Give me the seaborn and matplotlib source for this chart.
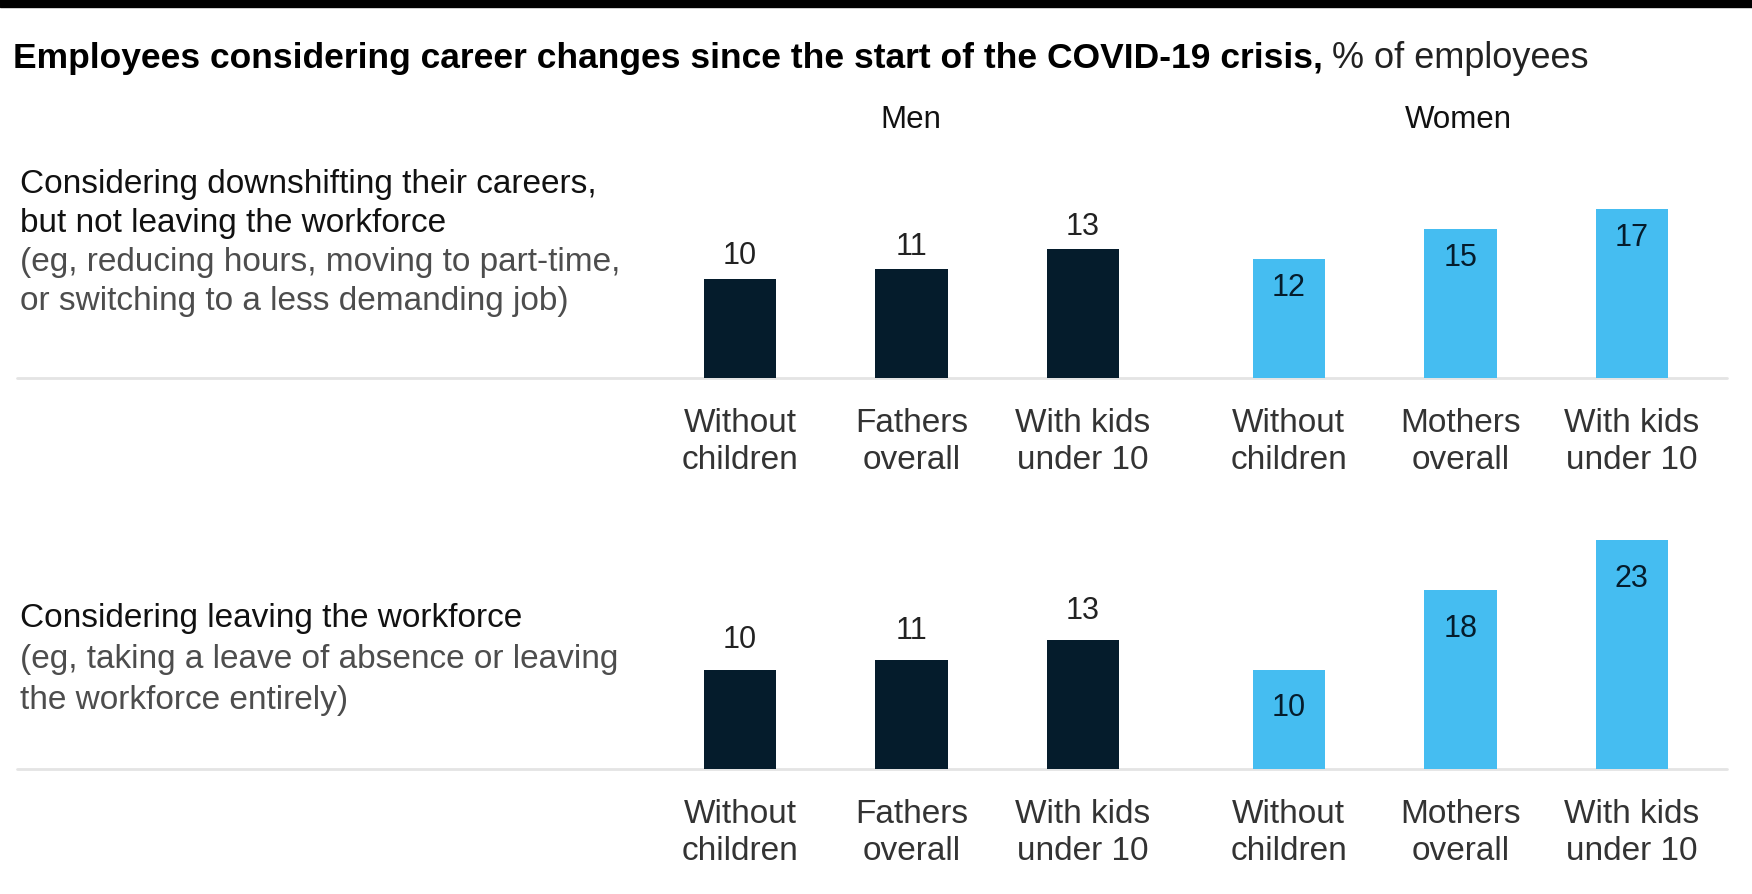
import numpy as np
import pandas as pd
import seaborn as sns
import matplotlib.pyplot as plt
from matplotlib.patches import Rectangle

# --- data ---
groups = ["Men", "Men", "Men", "Women", "Women", "Women"]
categories = ["Without\nchildren", "Fathers\noverall", "With kids\nunder 10",
              "Without\nchildren", "Mothers\noverall", "With kids\nunder 10"]
downshifting = [10, 11, 13, 12, 15, 17]
leaving = [10, 11, 13, 10, 18, 23]

row_labels = [
    (["Considering downshifting their careers,", "but not leaving the workforce"],
     ["(eg, reducing hours, moving to part-time,", "or switching to a less demanding job)"]),
    (["Considering leaving the workforce"],
     ["(eg, taking a leave of absence or leaving", "the workforce entirely)"]),
]
title_bold = "Employees considering career changes since the start of the COVID-19 crisis,"
title_rest = "% of employees"

DARK = "#051c2c"
LIGHT = "#45bdf1"
W, H = 1752, 895

sns.set_theme(style="white")
plt.rcParams["font.family"] = ["Liberation Sans", "DejaVu Sans"]

# x positions: small gap between men and women groups
pos = np.array([0, 1, 2, 3.2, 4.2, 5.2])
df = pd.DataFrame({"group": groups, "cat": categories, "pos": pos,
                   "down": downshifting, "leave": leaving})

fig = plt.figure(figsize=(W / 100, H / 100), dpi=100)
fig.patches.append(Rectangle((0, 1 - 8 / H), 1, 8 / H, transform=fig.transFigure,
                             color="black", zorder=10))

PX_UNIT = 9.95
X0, STEP = 740, 171.5
x_left, x_right = 17, 1727
xlim = ((x_left - X0) / STEP, (x_right - X0) / STEP)


def make_panel(col, base_px, ymax, above_px, inside_px):
    top_px = base_px - ymax * PX_UNIT
    ax = fig.add_axes([x_left / W, 1 - base_px / H, (x_right - x_left) / W,
                       (base_px - top_px) / H])
    for g, c in [("Men", DARK), ("Women", LIGHT)]:
        sub = df[df.group == g]
        sns.barplot(x=sub["pos"], y=sub[col], color=c, width=0.423, native_scale=True,
                    saturation=1, errorbar=None, linewidth=0, ax=ax)
    ax.set_xlim(*xlim)
    ax.set_ylim(0, ymax)
    ax.axhline(0, color="#e4e4e4", lw=2, zorder=0, clip_on=False)
    for s in ax.spines.values():
        s.set_visible(False)
    ax.set_yticks([])
    ax.set_xlabel("")
    ax.set_ylabel("")
    ax.set_xticks(df["pos"])
    ax.set_xticklabels(df["cat"], fontsize=24, color="#333333", linespacing=1.25)
    ax.tick_params(axis="x", length=0, pad=21)
    for _, r in df.iterrows():
        v = r[col]
        if r.group == "Men":
            ax.annotate(f"{v}", (r.pos, v), xytext=(0, above_px * 0.72),
                        textcoords="offset points", ha="center", va="center",
                        fontsize=22, color="#222222")
        else:
            ax.annotate(f"{v}", (r.pos, v), xytext=(0, -inside_px * 0.72),
                        textcoords="offset points", ha="center", va="center",
                        fontsize=22, color=DARK)
    ax.patch.set_alpha(0)
    return ax


make_panel("down", 379, 20, 23, 28)
make_panel("leave", 770, 25, 30, 38)

# group headers
fig.text(911 / W, 1 - 128 / H, "Men", ha="center", va="baseline", fontsize=22.5, color="#111111")
fig.text(1458 / W, 1 - 128 / H, "Women", ha="center", va="baseline", fontsize=22.5, color="#111111")

# row descriptions
line_y = [[193, 232, 271, 310], [627, 668, 709]]
for (dark_lines, grey_lines), ys in zip(row_labels, line_y):
    lines = [(t, "#111111") for t in dark_lines] + [(t, "#4d4d4d") for t in grey_lines]
    for (t, c), y in zip(lines, ys):
        fig.text(20 / W, 1 - y / H, t, ha="left", va="baseline", fontsize=24, color=c)

# title: bold part + regular part
t1 = fig.text(13 / W, 1 - 68 / H, title_bold, ha="left", va="baseline",
              fontsize=25.5, fontweight="bold", color="black")
r = fig.canvas.get_renderer()
bb = t1.get_window_extent(renderer=r)
fig.text((bb.x1 + 9) / W, 1 - 68 / H, title_rest, ha="left", va="baseline",
         fontsize=26, color="#222222")

fig.savefig("out.png", dpi=100)
